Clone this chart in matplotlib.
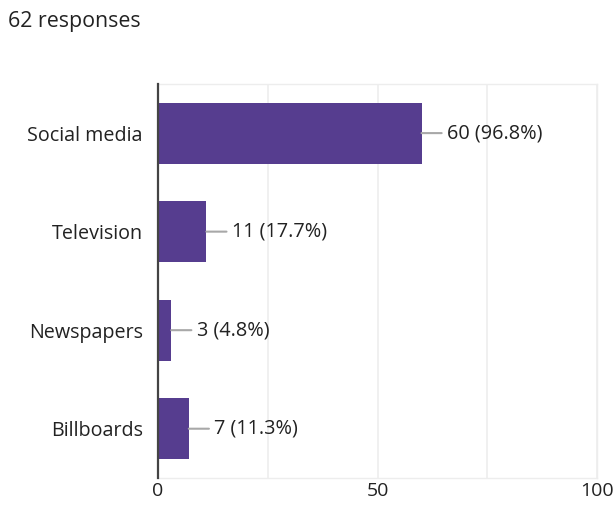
import matplotlib
matplotlib.use("Agg")
import matplotlib.pyplot as plt

categories = ["Social media", "Television", "Newspapers", "Billboards"]
counts = [60, 11, 3, 7]
total = 62
x_ticks = [0, 50, 100]

plt.rcParams['font.family'] = ['Open Sans', 'DejaVu Sans']

fig = plt.figure(figsize=(6.15, 5.05), dpi=100)
ax = fig.add_axes([0.257, 0.0535, 0.714, 0.7805])

bar_color = "#563d8f"
ypos = list(range(len(categories)))
ax.barh(ypos, counts, height=0.62, color=bar_color, zorder=3)
ax.set_ylim(len(categories) - 0.5, -0.5)
ax.set_xlim(0, 100)

# leader lines and value labels
for y, v in zip(ypos, counts):
    pct = v / total * 100
    ax.annotate("", xy=(v, y), xytext=(14.5, 0), textcoords="offset points",
                arrowprops=dict(arrowstyle="-", color="#a8a8a8", lw=1.5,
                                shrinkA=0, shrinkB=0), zorder=4)
    ax.annotate(f"{v} ({pct:.1f}%)", xy=(v, y), xytext=(18.5, 0),
                textcoords="offset points", va="center", ha="left",
                fontsize=14.3, color="#222222")

# light vertical grid
for gx in [25, 50, 75, 100]:
    ax.axvline(gx, color="#ededed", lw=1.2, zorder=1)

ax.set_xticks(x_ticks)
ax.set_xticklabels([str(t) for t in x_ticks], fontsize=14.0, color="#222222")
ax.set_yticks(ypos)
ax.set_yticklabels(categories, fontsize=14.2, color="#222222")
ax.tick_params(axis="both", length=0)
ax.tick_params(axis="x", pad=3)
ax.tick_params(axis="y", pad=11)

for side in ["top", "right", "bottom"]:
    ax.spines[side].set_color("#ededed")
    ax.spines[side].set_linewidth(1.0)
ax.spines["left"].set_color("#444444")
ax.spines["left"].set_linewidth(1.6)
ax.spines["left"].set_zorder(5)

fig.text(8 / 615, 1 - 21 / 505, "62 responses", fontsize=15.4,
         color="#222222", ha="left", va="center")

fig.savefig("out.png", dpi=100, facecolor="white")
